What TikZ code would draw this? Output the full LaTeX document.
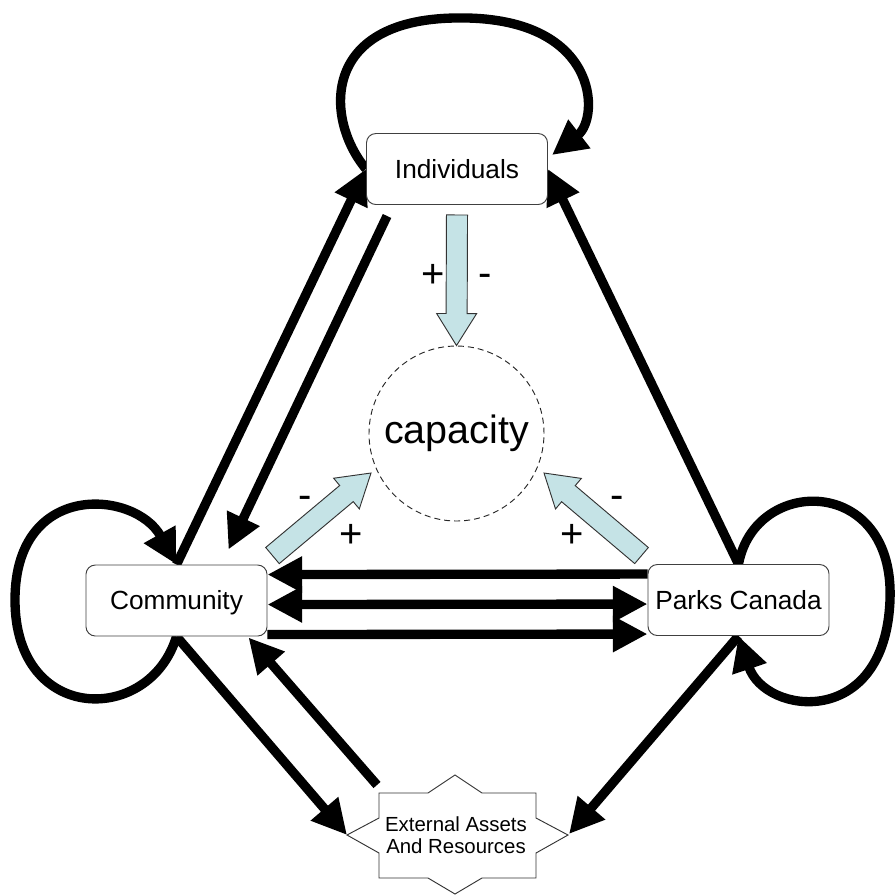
\documentclass[tikz,border=0pt]{standalone}
\usepackage{fontspec}
\setmainfont{Liberation Sans}
\usetikzlibrary{arrows.meta,calc}
\definecolor{capblue}{RGB}{197,227,230}
\pgfdeclarelayer{bg}
\pgfsetlayers{bg,main}
\newcommand\blueArrow[2]{%
  \coordinate (ba-h) at ($(#2)!24pt!(#1)$);
  \path[bluearr] ($(#1)!7.9pt!90:(#2)$) -- ($(ba-h)!7.9pt!-90:(#1)$) -- ($(ba-h)!15pt!-90:(#1)$) -- (#2)
    -- ($(ba-h)!15pt!90:(#1)$) -- ($(ba-h)!7.9pt!90:(#1)$) -- ($(#1)!7.9pt!-90:(#2)$) -- cycle;
}
\begin{document}
\begin{tikzpicture}[x=0.75pt,y=-0.75pt,
  box/.style={draw=black!75, line width=0.7pt, rounded corners=7pt, fill=white,
    minimum width=135.75pt, minimum height=53.25pt, inner sep=0pt,
    font=\fontsize{19.7}{22}\selectfont, text height=14.1pt, text depth=0pt},
  flow/.style={line width=7pt, -{Triangle[length=26pt,width=25.5pt]}},
  flowboth/.style={line width=7pt, {Triangle[length=26pt,width=25.5pt]}-{Triangle[length=26pt,width=25.5pt]}},
  bluearr/.style={draw=black!80, line width=0.7pt, fill=capblue, line join=miter},
  sign/.style={font=\fontsize{30}{32}\selectfont, inner sep=0pt},
  extshape/.style={draw=black!80, line width=0.7pt, fill=white, line join=miter}
]
\useasboundingbox (0,0) rectangle (896,894);

% nodes
\node[box] (ind) at (457,169) {Individuals};
\node[box] (com) at (176.5,600.5) {Community};
\node[box] (pc) at (738.5,600) {Parks Canada};
\node[circle, draw=black!85, dashed, dash pattern=on 4.5pt off 3pt, line width=0.7pt,
  minimum size=131.25pt, inner sep=0pt, font=\fontsize{29.6}{32}\selectfont] (cap) at (456.5,433.5) {capacity};

\path[extshape] (347,835) -- (379,818) -- (379,793) -- (428,793) -- (455,775) -- (482,793) -- (536,793)
  -- (536,818) -- (568,835) -- (536,853) -- (536,878) -- (482,878) -- (455,894) -- (428,878)
  -- (379,878) -- (379,853) -- cycle;
\node[align=center, inner sep=0pt, font=\fontsize{15.3}{16.3}\selectfont] (ext) at (456,835) {External Assets\\And Resources};
\coordinate (extL) at (347,835);
\coordinate (extR) at (569,834);
\coordinate (extTL) at (377,785);

% signs
\node[sign] (p1) at (433.3,276.3) {+};
\node[sign] (m1) at (484.7,280.6) {-};
\node[sign] (m2) at (305.3,501.9) {-};
\node[sign] (p2) at (350.8,536.3) {+};
\node[sign] (m3) at (617,501.9) {-};
\node[sign] (p3) at (571.7,536.3) {+};

% blue arrows into capacity
\coordinate (bt1) at ($(ind.south)+(0,10)$);
\coordinate (bh1) at (cap.north);
\coordinate (bt2) at ($(com.north east)+(5,-9)$);
\coordinate (bh2) at ($(cap.center)+(-85.5,39.5)$);
\coordinate (bt3) at ($(pc.north west)+(-6,-8.5)$);
\coordinate (bh3) at ($(cap.center)+(87.5,39.5)$);
\blueArrow{bt1}{bh1}
\blueArrow{bt2}{bh2}
\blueArrow{bt3}{bh3}

\begin{pgfonlayer}{bg}
  % self loops
  \draw[flow] (ind.west) .. controls (325,120) and (320,20) .. (455,18)
     .. controls (600,15) and (600,118) .. ($(ind.north east)+(4,22)$);
  \draw[flow] (com.south) .. controls (150,725) and (15,725) .. (15,600)
     .. controls (15,480) and (135,490) .. (com.north);
  \draw[flow] (pc.north) .. controls (755,475) and (895,475) .. (890,600)
     .. controls (885,730) and (765,715) .. (pc.south);
  % community <-> individuals
  \draw[flow] (com.north) -- (ind.west);
  \draw[flow] ($(ind.south west)+(21,11)$) -- ($(com.north east)+(-39,-15)$);
  % parks -> individuals
  \draw[flow] (pc.north) -- (ind.east);
  % community <-> parks
  \draw[flow] ($(pc.north west)+(0,10)$) -- ($(com.north east)+(0,10)$);
  \draw[flowboth] ($(com.north east)+(0,40)$) -- ($(pc.north west)+(0,40)$);
  \draw[flow] ($(com.north east)+(0,70)$) -- ($(pc.north west)+(0,70)$);
  % external
  \draw[flow] (com.south) -- (extL);
  \draw[flow] (extTL) -- ($(com.south east)+(-19,1)$);
  \draw[flow] (pc.south) -- (extR);
\end{pgfonlayer}
\end{tikzpicture}
\end{document}
